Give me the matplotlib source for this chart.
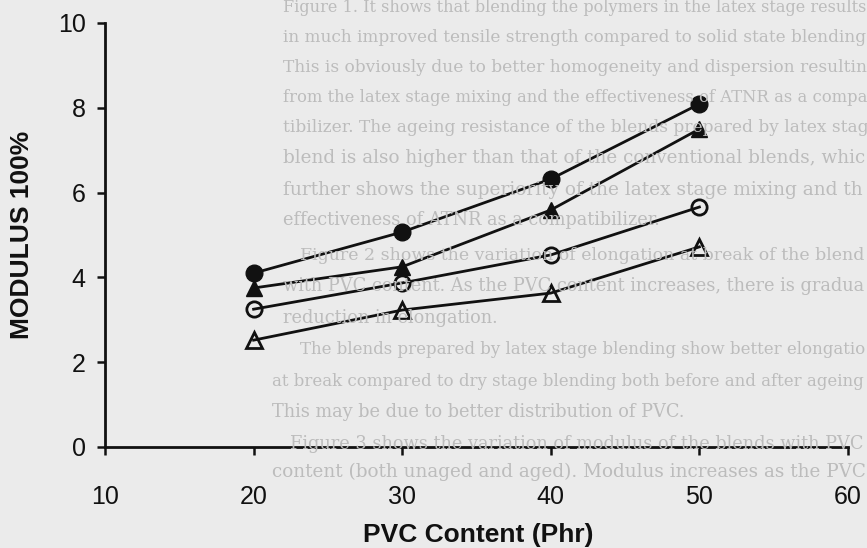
import matplotlib
matplotlib.use("Agg")
import matplotlib.pyplot as plt

# ---- data ----
pvc = [20, 30, 40, 50]
latex_unaged = [4.10, 5.07, 6.32, 8.09]     # filled circles
latex_aged = [3.75, 4.25, 5.59, 7.50]       # filled triangles
dry_unaged = [3.25, 3.87, 4.53, 5.66]       # open circles
dry_aged = [2.52, 3.23, 3.63, 4.72]         # open triangles

xticks = [10, 20, 30, 40, 50, 60]
yticks = [0, 2, 4, 6, 8, 10]
xlabel = "PVC Content (Phr)"
ylabel = "MODULUS 100%"

# faint page text visible behind the chart (as seen, cut at the right edge)
bg_lines = [
    "Figure 1. It shows that blending the polymers in the latex stage results",
    "in much improved tensile strength compared to solid state blending",
    "This is obviously due to better homogeneity and dispersion resultin",
    "from the latex stage mixing and the effectiveness of ATNR as a compa",
    "tibilizer. The ageing resistance of the blends prepared by latex stag",
    "blend is also higher than that of the conventional blends, whic",
    "further shows the superiority of the latex stage mixing and th",
    "effectiveness of ATNR as a compatibilizer.",
    "Figure 2 shows the variation of elongation at break of the blend",
    "with PVC content. As the PVC content increases, there is gradua",
    "reduction in elongation.",
    "The blends prepared by latex stage blending show better elongatio",
    "at break compared to dry stage blending both before and after ageing",
    "This may be due to better distribution of PVC.",
    "Figure 3 shows the variation of modulus of the blends with PVC",
    "content (both unaged and aged). Modulus increases as the PVC",
]
bg_full = [1, 1, 1, 1, 1, 1, 1, 0, 1, 1, 0, 1, 1, 0, 1, 1]
bg_y = [8, 38, 68, 98, 128, 158, 190, 220, 256, 286, 318, 350, 381, 412, 444, 472]
bg_x = [283, 283, 283, 283, 283, 283, 283, 283, 300, 283, 283, 300, 272, 272, 290, 272]

W, H = 867, 548
fig = plt.figure(figsize=(W / 100, H / 100), dpi=100, facecolor="#ebebeb")
renderer = fig.canvas.get_renderer()

base = 12.8
for t, x, y, full in zip(bg_lines, bg_x, bg_y, bg_full):
    txt = fig.text(x / W, 1 - y / H, t, family="DejaVu Serif", fontsize=base,
                   color="#bcbcbc", va="center", ha="left", zorder=0)
    w = txt.get_window_extent(renderer).width
    avail = (W - 4) - x
    if full or w > avail:
        txt.set_fontsize(max(11.5, min(base * 1.06, base * avail / w)))

ax = fig.add_axes([105 / W, 1 - 447 / H, (848 - 105) / W, (447 - 23) / H])
ax.set_facecolor("none")

lw = 2.0
ms = 12
ax.plot(pvc, latex_unaged, color="#111111", lw=lw, marker="o", ms=ms,
        mfc="#111111", mec="#111111", clip_on=False)
ax.plot(pvc, latex_aged, color="#111111", lw=lw, marker="^", ms=ms,
        mfc="#111111", mec="#111111", clip_on=False)
ax.plot(pvc, dry_unaged, color="#111111", lw=lw, marker="o", ms=ms - 1,
        mfc="none", mec="#111111", mew=2, clip_on=False)
ax.plot(pvc, dry_aged, color="#111111", lw=lw, marker="^", ms=ms,
        mfc="none", mec="#111111", mew=2, clip_on=False)

ax.set_xlim(10, 60)
ax.set_ylim(0, 10)
ax.set_xticks(xticks)
ax.set_yticks(yticks)
for s in ["top", "right"]:
    ax.spines[s].set_visible(False)
for s in ["left", "bottom"]:
    ax.spines[s].set_linewidth(2.0)
    ax.spines[s].set_color("#111111")

ax.tick_params(axis="both", direction="out", length=6, width=1.8, color="#111111",
               labelsize=18, labelcolor="#111111")
ax.tick_params(axis="x", pad=21)
ax.tick_params(axis="y", pad=8)
for lab in ax.get_xticklabels() + ax.get_yticklabels():
    lab.set_family("Liberation Sans")

fig.text(478 / W, 1 - 535 / H, xlabel, family="Liberation Sans", fontsize=19,
         fontweight="bold", color="#111111", ha="center", va="center")
fig.text(22 / W, 1 - 235 / H, ylabel, family="Liberation Sans", fontsize=19,
         fontweight="bold", color="#111111", ha="center", va="center",
         rotation=90)

fig.savefig("out.png", dpi=100, facecolor=fig.get_facecolor())
